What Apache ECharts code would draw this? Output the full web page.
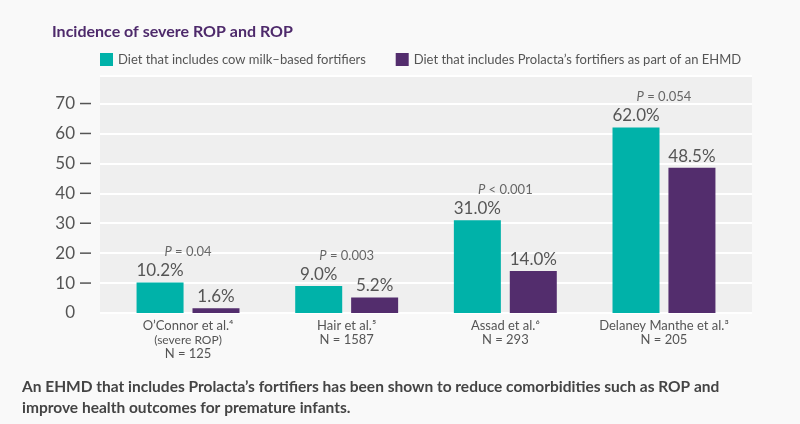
<!DOCTYPE html>
<html><head><meta charset="utf-8">
<script src="https://cdn.jsdelivr.net/npm/echarts@6/dist/echarts.min.js"></script>
<style>html,body{margin:0;padding:0;background:#f9f9f9}#c{width:800px;height:424px}</style>
</head><body><div id="c"></div>
<script>
const studies = ['O’Connor et al.⁴', 'Hair et al.⁵', 'Assad et al.⁶', 'Delaney Manthe et al.³'];
const studyNotes = ['(severe ROP)', '', '', ''];
const sampleSizes = ['N = 125', 'N = 1587', 'N = 293', 'N = 205'];
const cowMilk = [10.2, 9.0, 31.0, 62.0];
const prolacta = [1.6, 5.2, 14.0, 48.5];
const pSign = ['=', '=', '<', '='];
const pValues = ['0.04', '0.003', '0.001', '0.054'];
const seriesNames = ['Diet that includes cow milk–based fortifiers', 'Diet that includes Prolacta’s fortifiers as part of an EHMD'];
const yTickStep = 10;

const FONT = 'Lato';
const TEAL = '#00b2a9', PURPLE = '#532d6d', GREY = '#555555';
const Y_MAX = 79.3;

const chart = echarts.init(document.getElementById('c'), null, {renderer: 'canvas'});
const pTop = cowMilk.map((v, i) => Math.max(v, prolacta[i]));

chart.setOption({
  backgroundColor: '#f9f9f9',
  animation: false,
  textStyle: {fontFamily: FONT},
  title: [{
    text: 'Incidence of severe ROP and ROP',
    left: 47, top: 19,
    textStyle: {fontFamily: FONT, fontWeight: 'bold', fontSize: 16, color: '#4e2a6b'}
  }, {
    text: 'An EHMD that includes Prolacta’s fortifiers has been shown to reduce comorbidities such as ROP and\nimprove health outcomes for premature infants.',
    left: 17, top: 371,
    textStyle: {fontFamily: FONT, fontWeight: 'bold', fontSize: 15.5, lineHeight: 21, color: '#444444'}
  }],
  legend: [{
    data: [seriesNames[0]], left: 95, top: 48, itemWidth: 13, itemHeight: 13,
    icon: 'rect', textStyle: {fontFamily: FONT, fontSize: 13, color: GREY}, itemGap: 9
  }, {
    data: [seriesNames[1]], left: 390.7, top: 48, itemWidth: 13, itemHeight: 13,
    icon: 'rect', textStyle: {fontFamily: FONT, fontSize: 13, color: GREY}, itemGap: 9
  }],
  grid: [
    {left: 100, right: 48, top: 75.7, bottom: 111, show: true, backgroundColor: '#efefef', borderWidth: 0},
    {left: 108.7, right: 56.7, top: 75.7, bottom: 111}
  ],
  xAxis: [
    {gridIndex: 0, type: 'category', data: studies, show: false},
    {gridIndex: 1, type: 'category', data: studies,
     axisLine: {show: false}, axisTick: {show: false},
     axisLabel: {
       margin: 6, interval: 0,
       formatter: (v, i) => {
         const lines = ['{a|' + v + '}'];
         if (studyNotes[i]) lines.push('{b|' + studyNotes[i] + '}');
         lines.push('{a|' + sampleSizes[i] + '}');
         return lines.join('\n');
       },
       rich: {
         a: {fontFamily: FONT, fontSize: 13, color: GREY, lineHeight: 14},
         b: {fontFamily: FONT, fontSize: 12, color: GREY, lineHeight: 14}
       }
     }}
  ],
  yAxis: [
    {gridIndex: 0, type: 'value', min: 0, max: Y_MAX, interval: yTickStep,
     axisLine: {show: false}, axisTick: {show: false},
     splitLine: {show: true, lineStyle: {color: '#ffffff', width: 2}},
     axisLabel: {
       margin: 9, showMaxLabel: false,
       formatter: v => (v % yTickStep === 0 ? '{v|' + v + '}{g|}' + (v === 0 ? '{e|}' : '{d|}') : ''),
       rich: {
         v: {fontFamily: FONT, fontSize: 17, color: GREY},
         g: {width: 5, height: 2},
         d: {width: 11, height: 1.5, backgroundColor: GREY},
         e: {width: 11, height: 1.5}
       }
     }},
    {gridIndex: 1, type: 'value', min: 0, max: Y_MAX, interval: yTickStep, show: false, splitLine: {show: false}}
  ],
  series: [
    {name: seriesNames[0], type: 'bar', xAxisIndex: 1, yAxisIndex: 1, data: cowMilk,
     barWidth: 47, barGap: '19%', itemStyle: {color: TEAL},
     label: {show: true, position: 'top', distance: 3, formatter: p => p.value.toFixed(1) + '%',
             fontFamily: FONT, fontSize: 17, color: GREY}},
    {name: seriesNames[1], type: 'bar', xAxisIndex: 1, yAxisIndex: 1, data: prolacta,
     barWidth: 47, barGap: '19%', itemStyle: {color: PURPLE},
     label: {show: true, position: 'top', distance: 3, formatter: p => p.value.toFixed(1) + '%',
             fontFamily: FONT, fontSize: 17, color: GREY}},
    {name: 'P', type: 'scatter', xAxisIndex: 1, yAxisIndex: 1, data: pTop, symbolSize: 0,
     silent: true, legendHoverLink: false,
     label: {show: true, position: 'top', distance: 24,
             formatter: p => '{i|P}{n| ' + pSign[p.dataIndex] + ' ' + pValues[p.dataIndex] + '}',
             rich: {i: {fontFamily: FONT, fontStyle: 'italic', fontSize: 13, color: '#444444'},
                    n: {fontFamily: FONT, fontSize: 13, color: '#444444'}}}}
  ]
});
</script></body></html>
